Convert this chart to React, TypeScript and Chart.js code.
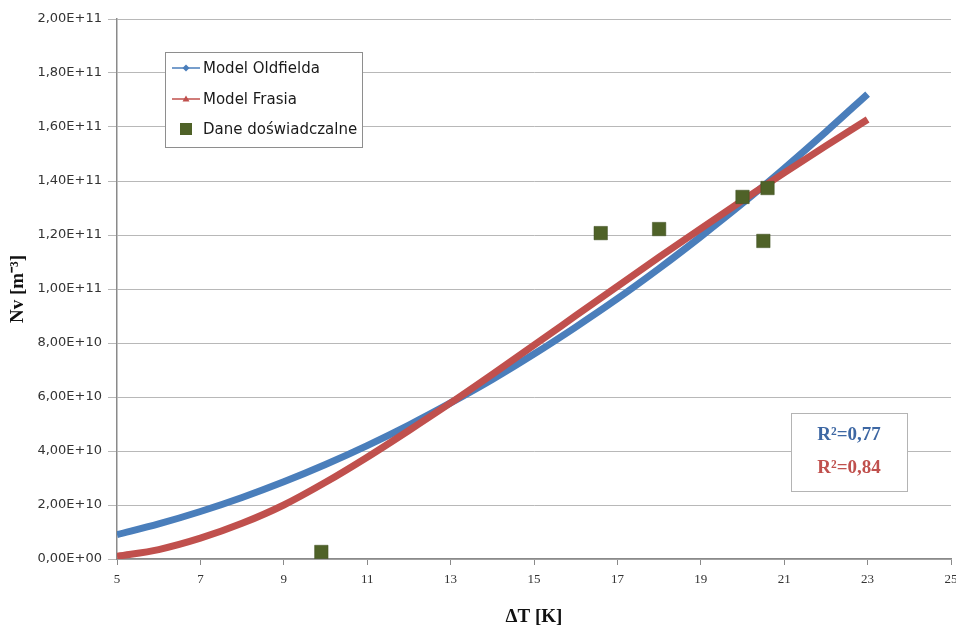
import React, { useEffect, useRef } from 'react';
import { Chart, registerables } from 'chart.js';
Chart.register(...registerables);

// ---- data ----
const seriesNames = ['Model Oldfielda', 'Model Frasia', 'Dane doświadczalne'];
const xModel = [5, 6, 7, 8, 9, 10, 11, 12, 13, 14, 15, 16, 17, 18, 19, 20, 21, 22, 23];
const yOldfield = [
  0.9e10, 1.3e10, 1.76e10, 2.28e10, 2.86e10, 3.5e10, 4.2e10, 4.96e10, 5.78e10, 6.65e10,
  7.59e10, 8.59e10, 9.64e10, 1.076e11, 1.194e11, 1.317e11, 1.447e11, 1.582e11, 1.722e11,
];
const yFrasia = [
  0.1e10, 0.35e10, 0.77e10, 1.32e10, 2.0e10, 2.84e10, 3.77e10, 4.76e10, 5.78e10, 6.84e10,
  7.92e10, 9.01e10, 1.01e11, 1.118e11, 1.224e11, 1.328e11, 1.43e11, 1.53e11, 1.628e11,
];
const xData = [9.9, 16.6, 18.0, 20.0, 20.6, 20.5];
const yData = [2.6e9, 1.207e11, 1.222e11, 1.341e11, 1.374e11, 1.178e11];
const r2Labels = ['R²=0,77', 'R²=0,84'];
const xTitle = 'ΔT [K]';
const yTitle = 'Nv [m⁻³]';
const xMin = 5, xMax = 25, xStep = 2;
const yMin = 0, yMax = 2e11, yStep = 2e10;

const BLUE = '#4a7ebb';
const RED = '#c0504d';
const GREEN = '#4f6228';

function sci(v: number): string {
  if (Math.abs(v) < 1) return '0,00E+00';
  const e = Math.floor(Math.log10(Math.abs(v)) + 1e-9);
  const m = v / Math.pow(10, e);
  return m.toFixed(2).replace('.', ',') + 'E+' + String(e).padStart(2, '0');
}

const overlayPlugin = {
  id: 'overlay',
  afterDatasetsDraw(chart: any) {
    const { ctx, chartArea: a } = chart;
    ctx.save();
    // legend box
    const lx = a.left + 48, ly = a.top + 33, lw = 197, lh = 95;
    ctx.fillStyle = '#ffffff';
    ctx.fillRect(lx, ly, lw, lh);
    ctx.strokeStyle = '#8e8e8e';
    ctx.lineWidth = 1;
    ctx.strokeRect(lx + 0.5, ly + 0.5, lw, lh);
    const rows = [16, 47, 77];
    const colors = [BLUE, RED, GREEN];
    ctx.font = '15px "DejaVu Sans"';
    ctx.textBaseline = 'middle';
    ctx.textAlign = 'left';
    rows.forEach((dy, i) => {
      const y = ly + dy;
      const mx = lx + 21;
      if (i < 2) {
        ctx.strokeStyle = colors[i];
        ctx.lineWidth = 1.5;
        ctx.beginPath();
        ctx.moveTo(lx + 7, y);
        ctx.lineTo(lx + 35, y);
        ctx.stroke();
        ctx.fillStyle = colors[i];
        ctx.beginPath();
        if (i === 0) {
          ctx.moveTo(mx, y - 3.5);
          ctx.lineTo(mx + 3.5, y);
          ctx.lineTo(mx, y + 3.5);
          ctx.lineTo(mx - 3.5, y);
        } else {
          ctx.moveTo(mx, y - 3.5);
          ctx.lineTo(mx + 3.5, y + 2.5);
          ctx.lineTo(mx - 3.5, y + 2.5);
        }
        ctx.closePath();
        ctx.fill();
      } else {
        ctx.fillStyle = GREEN;
        ctx.fillRect(mx - 6, y - 6, 12, 12);
      }
      ctx.fillStyle = '#1a1a1a';
      ctx.fillText(seriesNames[i], lx + 38, y + 1);
    });

    // R^2 box
    const rx = a.right - 160, ry = a.bottom - 146, rw = 116, rh = 78;
    ctx.fillStyle = '#ffffff';
    ctx.fillRect(rx, ry, rw, rh);
    ctx.strokeStyle = '#b4b4b4';
    ctx.lineWidth = 1;
    ctx.strokeRect(rx + 0.5, ry + 0.5, rw, rh);
    ctx.font = 'bold 19px "Liberation Serif"';
    ctx.textAlign = 'center';
    ctx.fillStyle = '#3d67a3';
    ctx.fillText(r2Labels[0], rx + rw / 2, ry + 22);
    ctx.fillStyle = RED;
    ctx.fillText(r2Labels[1], rx + rw / 2, ry + 55);
    ctx.restore();
  },
};

export default function App() {
  const ref = useRef<HTMLCanvasElement | null>(null);
  useEffect(() => {
    if (!ref.current) return;
    const chart = new Chart(ref.current, {
      type: 'scatter',
      data: {
        datasets: [
          {
            label: seriesNames[0],
            data: xModel.map((x, i) => ({ x, y: yOldfield[i] })),
            showLine: true,
            borderColor: BLUE,
            backgroundColor: BLUE,
            borderWidth: 7,
            pointRadius: 0,
            cubicInterpolationMode: 'monotone',
            order: 2,
          },
          {
            label: seriesNames[1],
            data: xModel.map((x, i) => ({ x, y: yFrasia[i] })),
            showLine: true,
            borderColor: RED,
            backgroundColor: RED,
            borderWidth: 7,
            pointRadius: 0,
            cubicInterpolationMode: 'monotone',
            order: 1,
          },
          {
            label: seriesNames[2],
            data: xData.map((x, i) => ({ x, y: yData[i] })),
            showLine: false,
            pointStyle: 'rect',
            pointRadius: 9.5,
            backgroundColor: GREEN,
            borderColor: '#3e4e20',
            borderWidth: 0.5,
            order: 0,
          },
        ],
      },
      options: {
        animation: false,
        responsive: true,
        maintainAspectRatio: false,
        layout: { autoPadding: false, padding: { top: 19, right: 5, bottom: 0, left: 0 } },
        plugins: { legend: { display: false }, tooltip: { enabled: false } },
        scales: {
          x: {
            type: 'linear',
            min: xMin,
            max: xMax,
            ticks: {
              stepSize: xStep,
              padding: 7,
              color: '#333',
              font: { family: '"Liberation Serif"', size: 13 },
            },
            grid: {
              drawOnChartArea: false,
              drawTicks: true,
              tickLength: 6,
              color: '#8a8a8a',
            },
            border: { color: '#8a8a8a', width: 1.5 },
            title: {
              display: true,
              text: xTitle,
              color: '#111',
              font: { family: '"Liberation Serif"', size: 19, weight: 'bold' },
              padding: { top: 0, bottom: 0 },
            },
            afterFit: (s: any) => { s.height = 69; s.paddingRight = 0; },
          },
          y: {
            type: 'linear',
            min: yMin,
            max: yMax,
            ticks: {
              stepSize: yStep,
              padding: 6,
              color: '#333',
              font: { family: '"DejaVu Sans"', size: 13 },
              callback: (v: any) => sci(Number(v)),
            },
            grid: {
              color: '#b8b8b8',
              lineWidth: 1,
              tickLength: 9,
            },
            border: { color: '#8a8a8a', width: 1.5 },
            title: {
              display: true,
              text: yTitle,
              color: '#111',
              font: { family: '"Liberation Serif"', size: 19, weight: 'bold' },
              padding: { top: 7, bottom: 0 },
            },
            afterFit: (s: any) => { s.width = 117; },
          },
        },
      },
      plugins: [overlayPlugin],
    } as any);
    return () => chart.destroy();
  }, []);
  return (
    <div style={{ position: 'fixed', left: 0, top: 0, width: 956, height: 628, background: '#fff' }}>
      <canvas ref={ref} />
    </div>
  );
}
